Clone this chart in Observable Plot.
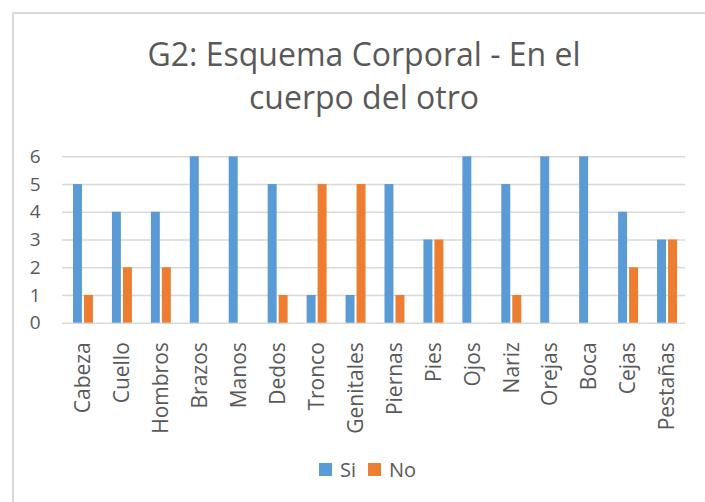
<!DOCTYPE html>
<html>
<head>
<meta charset="utf-8">
<script src="https://cdn.jsdelivr.net/npm/d3@7"></script>
<script src="https://cdn.jsdelivr.net/npm/@observablehq/plot@0.6"></script>
<style>
  html, body { margin: 0; padding: 0; background: #fff; width: 705px; height: 502px; overflow: hidden; }
  body { position: relative; font-family: "Open Sans", sans-serif; color: #595959; }
  #frame { position: absolute; left: 12px; top: 12px; width: 720px; height: 520px;
           border-left: 2px solid #d9d9d9; border-top: 2px solid #d9d9d9; }
  #title { position: absolute; left: 14px; width: 700px; top: 32px; text-align: center;
           font-size: 32px; line-height: 43px; color: #595959; }
  #chart { position: absolute; left: 0; top: 140px; }
  #legend { position: absolute; top: 456px; left: 0; width: 705px; display: flex; align-items: center;
            font-size: 20px; color: #595959; }
  .sw { display: inline-block; width: 13px; height: 13px; }
</style>
</head>
<body>
<div id="frame"></div>
<div id="title">G2: Esquema Corporal - En el<br>cuerpo del otro</div>
<div id="chart"></div>
<div id="legend"></div>
<script>
const categories = ["Cabeza","Cuello","Hombros","Brazos","Manos","Dedos","Tronco","Genitales","Piernas","Pies","Ojos","Nariz","Orejas","Boca","Cejas","Pestañas"];
const si = [5,4,4,6,6,5,1,1,5,3,6,5,6,6,4,3];
const no = [1,2,2,0,0,1,5,5,1,3,0,1,0,0,2,3];
const yTicks = [0,1,2,3,4,5,6];
const seriesNames = ["Si","No"];
const colors = ["#5B9BD5","#ED7D31"];

const rows = categories.map((c, i) => ({cat: c, si: si[i], no: no[i]}));

const plot = Plot.plot({
  width: 705,
  height: 320,
  marginLeft: 62,
  marginRight: 20,
  marginTop: 16.3,
  marginBottom: 137.3,
  style: {fontFamily: "Open Sans, sans-serif", color: "#595959", background: "transparent"},
  x: {domain: categories, range: [63.5, 686.5], round: false, paddingInner: 0.487, paddingOuter: 0.2435, label: null},
  y: {domain: [0, 6], label: null},
  marks: [
    Plot.gridY(yTicks, {stroke: "#d9d9d9", strokeOpacity: 1, strokeWidth: 1.5}),
    Plot.barY(rows, {x: "cat", y: "si", fill: colors[0], insetRight: 11}),
    Plot.barY(rows, {x: "cat", y: "no", fill: colors[1], insetLeft: 11}),
    Plot.axisY(yTicks, {tickSize: 0, tickPadding: 22, fontSize: 19, fill: "#595959", label: null}),
    Plot.axisX({tickSize: 0, tickPadding: 19, tickRotate: -90, fontSize: 21, fill: "#595959", label: null})
  ]
});
document.getElementById("chart").appendChild(plot);

const legend = document.getElementById("legend");
legend.innerHTML =
  `<span class="sw" style="margin-left:319px;background:${colors[0]}"></span>` +
  `<span style="margin-left:8px">${seriesNames[0]}</span>` +
  `<span class="sw" style="margin-left:12px;background:${colors[1]}"></span>` +
  `<span style="margin-left:8px">${seriesNames[1]}</span>`;
</script>
</body>
</html>
